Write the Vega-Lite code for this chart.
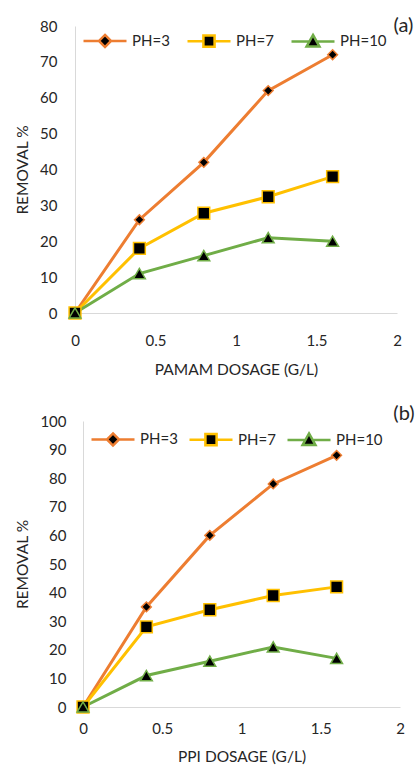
{
  "$schema": "https://vega.github.io/schema/vega-lite/v6.json",
  "padding": {"left": 15, "top": 16, "right": 0, "bottom": 0},
  "spacing": 26,
  "columns": 1,
  "align": "none",
  "background": "white",
  "config": {
    "font": "Lato",
    "view": {"stroke": null},
    "axis": {
      "grid": false, "ticks": false, "tickSize": 0,
      "domainColor": "#d9d9d9", "domainWidth": 1,
      "labelFont": "Lato", "labelFontSize": 15, "labelColor": "#262626", "labelFlush": false,
      "titleFont": "Lato", "titleFontSize": 15.5, "titleFontWeight": "normal", "titleColor": "#262626"
    },
    "axisX": {"format": "~g"},
    "axisY": {"titlePadding": 9},
    "legend": {
      "orient": "none", "direction": "horizontal", "title": null,
      "labelFont": "Lato", "labelFontSize": 15, "labelColor": "#262626",
      "symbolSize": 1849, "labelOffset": 4, "padding": 0
    }
  },
  "datasets": {
    "a": [
      {"dosage": 0, "removal": 0, "ph": "PH=3"},
      {"dosage": 0.4, "removal": 26, "ph": "PH=3"},
      {"dosage": 0.8, "removal": 42, "ph": "PH=3"},
      {"dosage": 1.2, "removal": 62, "ph": "PH=3"},
      {"dosage": 1.6, "removal": 72, "ph": "PH=3"},
      {"dosage": 0, "removal": 0, "ph": "PH=7"},
      {"dosage": 0.4, "removal": 18, "ph": "PH=7"},
      {"dosage": 0.8, "removal": 27.8, "ph": "PH=7"},
      {"dosage": 1.2, "removal": 32.4, "ph": "PH=7"},
      {"dosage": 1.6, "removal": 38, "ph": "PH=7"},
      {"dosage": 0, "removal": 0, "ph": "PH=10"},
      {"dosage": 0.4, "removal": 11, "ph": "PH=10"},
      {"dosage": 0.8, "removal": 16, "ph": "PH=10"},
      {"dosage": 1.2, "removal": 21, "ph": "PH=10"},
      {"dosage": 1.6, "removal": 20, "ph": "PH=10"}
    ],
    "b": [
      {"dosage": 0, "removal": 0, "ph": "PH=3"},
      {"dosage": 0.4, "removal": 35, "ph": "PH=3"},
      {"dosage": 0.8, "removal": 60, "ph": "PH=3"},
      {"dosage": 1.2, "removal": 78, "ph": "PH=3"},
      {"dosage": 1.6, "removal": 88, "ph": "PH=3"},
      {"dosage": 0, "removal": 0, "ph": "PH=7"},
      {"dosage": 0.4, "removal": 28, "ph": "PH=7"},
      {"dosage": 0.8, "removal": 34, "ph": "PH=7"},
      {"dosage": 1.2, "removal": 39, "ph": "PH=7"},
      {"dosage": 1.6, "removal": 42, "ph": "PH=7"},
      {"dosage": 0, "removal": 0, "ph": "PH=10"},
      {"dosage": 0.4, "removal": 11, "ph": "PH=10"},
      {"dosage": 0.8, "removal": 16, "ph": "PH=10"},
      {"dosage": 1.2, "removal": 21, "ph": "PH=10"},
      {"dosage": 1.6, "removal": 17, "ph": "PH=10"}
    ]
  },
  "concat": [
    {
      "width": 322, "height": 287,
      "data": {"name": "a"},
      "encoding": {
        "x": {"field": "dosage", "type": "quantitative", "scale": {"domain": [0, 2]}, "axis": {"values": [0, 0.5, 1, 1.5, 2], "title": "PAMAM DOSAGE (G/L)", "labelPadding": 20, "titlePadding": 14}},
        "y": {"field": "removal", "type": "quantitative", "scale": {"domain": [0, 80]}, "axis": {"values": [0, 10, 20, 30, 40, 50, 60, 70, 80], "title": "REMOVAL %", "labelPadding": 18}}
      },
      "layer": [
        {
          "encoding": {
            "color": {
              "field": "ph", "type": "nominal",
              "scale": {"domain": ["PH=3", "PH=7", "PH=10"], "range": ["#ED7D31", "#FFC000", "#70AD47"]},
              "legend": {
                "legendX": 7, "legendY": -8.5, "columnPadding": 12,
                "encode": {"symbols": {"update": {
                  "shape": {"signal": "datum.value === 'PH=3' ? 'M-1,0L-0.28,0M0.28,0L1,0M0,-0.28L0.28,0L0,0.28L-0.28,0Z' : datum.value === 'PH=7' ? 'M-1,0L-0.26,0M0.26,0L1,0M-0.26,-0.26L0.26,-0.26L0.26,0.26L-0.26,0.26Z' : 'M-1,0L-0.18,0M0.18,0L1,0M0,-0.3L0.3,0.24L-0.3,0.24Z'"},
                  "fill": {"value": "black"},
                  "fillOpacity": {"value": 1},
                  "stroke": {"signal": "datum.value === 'PH=3' ? '#ED7D31' : datum.value === 'PH=7' ? '#FFC000' : '#70AD47'"},
                  "strokeWidth": {"value": 2.5},
                  "opacity": {"value": 1}
                }}}
              }
            }
          },
          "layer": [
            {"mark": {"type": "line", "strokeWidth": 3}},
            {"transform": [{"filter": "datum.ph === 'PH=3'"}], "mark": {"type": "point", "shape": "diamond", "size": 95, "filled": false, "fill": "black", "fillOpacity": 1, "opacity": 1, "strokeWidth": 1.5}},
            {"transform": [{"filter": "datum.ph === 'PH=7'"}], "mark": {"type": "point", "shape": "square", "size": 140, "filled": false, "fill": "black", "fillOpacity": 1, "opacity": 1, "strokeWidth": 1.5}},
            {"transform": [{"filter": "datum.ph === 'PH=10'"}], "mark": {"type": "point", "shape": "triangle-up", "size": 140, "filled": false, "fill": "black", "fillOpacity": 1, "opacity": 1, "strokeWidth": 1.5}}
          ]
        },
        {
          "transform": [{"filter": "datum.ph === 'PH=3' && datum.dosage === 0"}],
          "mark": {"type": "text", "clip": false, "font": "Lato", "fontSize": 20, "align": "center", "baseline": "middle", "fill": "#262626"},
          "encoding": {"text": {"value": "(a)"}, "x": {"datum": 2.04}, "y": {"datum": 80}}
        }
      ]
    },
    {
      "width": 325, "height": 286,
      "data": {"name": "b"},
      "encoding": {
        "x": {"field": "dosage", "type": "quantitative", "scale": {"domain": [0, 2], "range": [8, 325]}, "axis": {"values": [0, 0.5, 1, 1.5, 2], "title": "PPI DOSAGE (G/L)", "labelPadding": 14, "titlePadding": 13}},
        "y": {"field": "removal", "type": "quantitative", "scale": {"domain": [0, 100]}, "axis": {"values": [0, 10, 20, 30, 40, 50, 60, 70, 80, 90, 100], "title": "REMOVAL %", "labelPadding": 17, "offset": -8}}
      },
      "layer": [
        {
          "encoding": {
            "color": {
              "field": "ph", "type": "nominal",
              "scale": {"domain": ["PH=3", "PH=7", "PH=10"], "range": ["#ED7D31", "#FFC000", "#70AD47"]},
              "legend": {
                "legendX": 15, "legendY": -5, "columnPadding": 6,
                "encode": {"symbols": {"update": {
                  "shape": {"signal": "datum.value === 'PH=3' ? 'M-1,0L-0.28,0M0.28,0L1,0M0,-0.28L0.28,0L0,0.28L-0.28,0Z' : datum.value === 'PH=7' ? 'M-1,0L-0.26,0M0.26,0L1,0M-0.26,-0.26L0.26,-0.26L0.26,0.26L-0.26,0.26Z' : 'M-1,0L-0.18,0M0.18,0L1,0M0,-0.3L0.3,0.24L-0.3,0.24Z'"},
                  "fill": {"value": "black"},
                  "fillOpacity": {"value": 1},
                  "stroke": {"signal": "datum.value === 'PH=3' ? '#ED7D31' : datum.value === 'PH=7' ? '#FFC000' : '#70AD47'"},
                  "strokeWidth": {"value": 2.5},
                  "opacity": {"value": 1}
                }}}
              }
            }
          },
          "layer": [
            {"mark": {"type": "line", "strokeWidth": 3}},
            {"transform": [{"filter": "datum.ph === 'PH=3'"}], "mark": {"type": "point", "shape": "diamond", "size": 95, "filled": false, "fill": "black", "fillOpacity": 1, "opacity": 1, "strokeWidth": 1.5}},
            {"transform": [{"filter": "datum.ph === 'PH=7'"}], "mark": {"type": "point", "shape": "square", "size": 140, "filled": false, "fill": "black", "fillOpacity": 1, "opacity": 1, "strokeWidth": 1.5}},
            {"transform": [{"filter": "datum.ph === 'PH=10'"}], "mark": {"type": "point", "shape": "triangle-up", "size": 140, "filled": false, "fill": "black", "fillOpacity": 1, "opacity": 1, "strokeWidth": 1.5}}
          ]
        },
        {
          "transform": [{"filter": "datum.ph === 'PH=3' && datum.dosage === 0"}],
          "mark": {"type": "text", "clip": false, "font": "Lato", "fontSize": 20, "align": "center", "baseline": "middle", "fill": "#262626"},
          "encoding": {"text": {"value": "(b)"}, "x": {"datum": 2.025}, "y": {"datum": 102.4}}
        }
      ]
    }
  ],
  "resolve": {
    "scale": {"color": "independent"},
    "legend": {"color": "independent"}
  }
}
